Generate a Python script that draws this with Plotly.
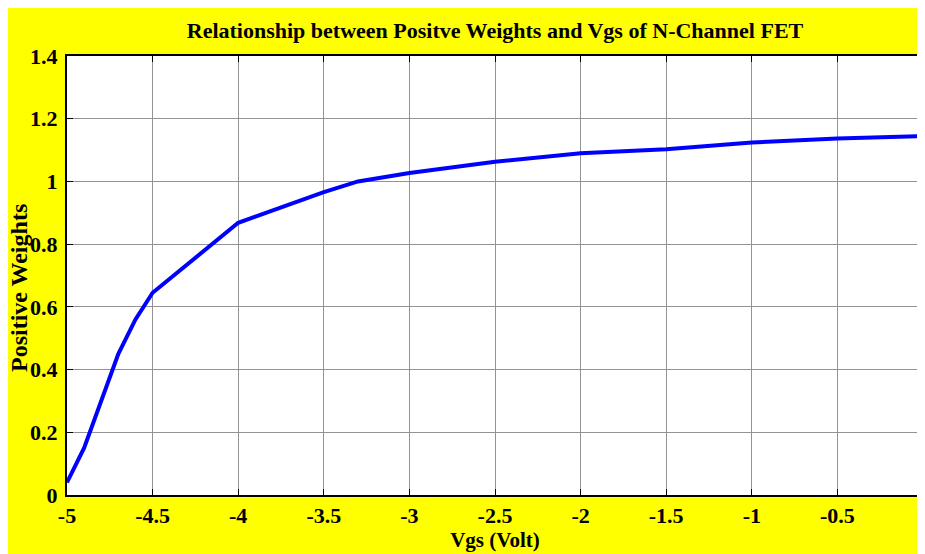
import plotly.graph_objects as go

vgs = [-5.0, -4.9, -4.7, -4.6, -4.5, -4.0, -3.5, -3.3, -3.0, -2.5, -2.0, -1.5, -1.0, -0.5, 0.0]
weights = [0.04, 0.15, 0.45, 0.56, 0.645, 0.868, 0.966, 1.0, 1.027, 1.063, 1.09, 1.103, 1.124, 1.137, 1.145]

x_ticks = [-5, -4.5, -4, -3.5, -3, -2.5, -2, -1.5, -1, -0.5, 0]
x_ticklabels = ["-5", "-4.5", "-4", "-3.5", "-3", "-2.5", "-2", "-1.5", "-1", "-0.5", "0"]
y_ticks = [0, 0.2, 0.4, 0.6, 0.8, 1.0, 1.2, 1.4]
y_ticklabels = ["0", "0.2", "0.4", "0.6", "0.8", "1", "1.2", "1.4"]

title_text = "Relationship between Positve Weights and Vgs of N-Channel FET"
x_title = "Vgs (Volt)"
y_title = "Positive Weights"

FONT = "Liberation Serif"
W, H = 925, 554
ML, MR, MT, MB = 59, 10, 48, 67
PW = W - ML - MR
PH = H - MT - MB

fig = go.Figure()
fig.add_trace(go.Scatter(
    x=vgs, y=weights, mode="lines",
    line=dict(color="#0000ff", width=4),
    showlegend=False,
))

axis_common = dict(
    showline=True, linecolor="black", linewidth=2, mirror="ticks",
    ticks="inside", ticklen=6, tickwidth=1, tickcolor="black",
    showgrid=True, gridcolor="#939393", gridwidth=1,
    zeroline=False,
    ticklabeloverflow="allow",
    tickfont=dict(family=FONT, size=22, color="black", weight="bold"),
)

fig.update_xaxes(
    range=[-5, 0], tickvals=x_ticks, ticktext=x_ticklabels,
    title=dict(text=x_title, font=dict(family=FONT, size=21, color="black", weight="bold"), standoff=0),
    ticklabelstandoff=0,
    **axis_common,
)
fig.update_yaxes(
    range=[0, 1.4], tickvals=y_ticks, ticktext=y_ticklabels,
    ticklabelstandoff=3,
    **axis_common,
)

fig.add_annotation(
    text=y_title, textangle=-90, showarrow=False,
    xref="paper", yref="paper",
    x=(11 - ML) / PW, y=(H - MB - 280) / PH,
    xanchor="center", yanchor="middle",
    font=dict(family=FONT, size=24, color="black", weight="bold"),
)

fig.update_layout(
    width=W, height=H,
    margin=dict(l=ML, r=MR, t=MT, b=MB, autoexpand=False),
    paper_bgcolor="#ffff00", plot_bgcolor="white",
    title=dict(text=title_text, x=0.5, xref="paper", xanchor="center",
               y=1 - 22 / H, yanchor="middle", yref="container",
               font=dict(family=FONT, size=22, color="black", weight="bold")),
    font=dict(family=FONT, color="black"),
)

fig.write_html("out.html")
